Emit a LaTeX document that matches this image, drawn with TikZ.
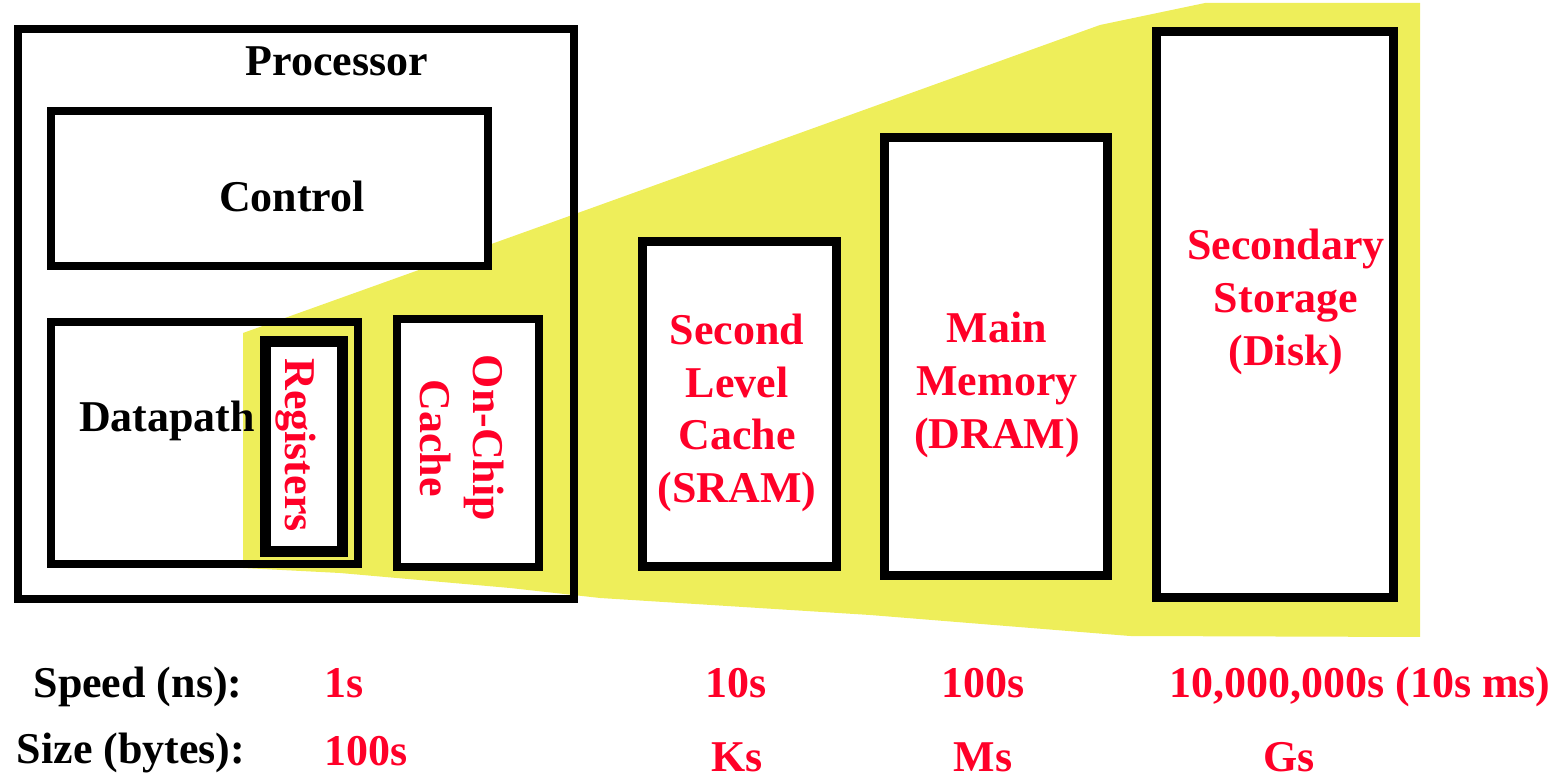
\documentclass[tikz,border=0pt]{standalone}
\usepackage{fontspec}
\setmainfont{Liberation Serif}
\usepackage{xcolor}
\definecolor{memred}{RGB}{255, 0, 40}
\definecolor{memyellow}{RGB}{238, 238, 90}
\usepackage{tikz}
\tikzset{
  % --- BOXES ---
  box-open/.style={
    draw=black,
    line width=0.08cm,
    inner sep=0pt,
    outer sep=0pt
  },
  box-white/.style={
    box-open,
    fill=white
  },
  % --- TEXT ---
  label-black/.style={
    font=\fontsize{12.5}{15}\selectfont\bfseries,
    text=black,
    inner sep=0pt,
    align=center
  },
  label-red/.style={
    label-black,
    text=memred
  },
  % --- HIGHLIGHT ---
  fan-yellow/.style={
    fill=memyellow
  },
}

\begin{document}
\begin{tikzpicture}[x=0.01cm, y=-0.01cm]
  \useasboundingbox (0,0) rectangle (1562,779);
  % --- highlighted levels
  \fill[fan-yellow] (243,333) -- (550,223) -- (1100,25) -- (1205,3)
    -- (1420,3) -- (1420,637) -- (1130,636) -- (870,615) -- (600,598)
    -- (510,588) -- (340,573) -- (243,568) -- cycle;
  % --- processor
  \node[box-open, minimum width=5.56cm, minimum height=5.70cm] (proc) at (296,314) {};
  \node[box-white, minimum width=4.37cm, minimum height=1.55cm] (ctrl) at (269.5,188.5) {};
  \node[box-open, minimum width=3.07cm, minimum height=2.42cm] (dpath) at (204.5,443) {};
  \node[box-white, line width=0.11cm, minimum width=0.77cm, minimum height=2.10cm] (regs) at (304,446.5) {};
  \node[box-white, minimum width=1.42cm, minimum height=2.48cm] (chip) at (468,443) {};
  % --- memory levels
  \node[box-white, line width=0.09cm, minimum width=1.93cm, minimum height=3.24cm] (ltwo) at (739.5,404) {};
  \node[box-white, line width=0.09cm, minimum width=2.23cm, minimum height=4.38cm] (dram) at (996,356.5) {};
  \node[box-white, line width=0.09cm, minimum width=2.37cm, minimum height=5.66cm] (disk) at (1275,314.5) {};
  % --- box titles
  \node[label-black, anchor=base] (proc-title) at (337,76) {Processor};
  \node[label-black, anchor=base] (ctrl-title) at (292,212) {Control};
  \node[label-black, anchor=base] (dpath-title) at (167,432) {Datapath};
  \node[label-red, rotate=-90] (regs-title) at (296,445) {Registers};
  \node[label-red, rotate=-90] (chip-title) at (462,438) {On-Chip\\Cache};
  \node[label-red] (ltwo-title) at (737,413) {Second\\Level\\Cache\\(SRAM)};
  \node[label-red] (dram-title) at (997,385) {Main\\Memory\\(DRAM)};
  \node[label-red] (disk-title) at (1286,302) {Secondary\\Storage\\(Disk)};
  % --- speed row
  \node[label-black, anchor=base] (speed-key) at (138,698) {Speed (ns):};
  \node[label-red, anchor=base] (speed-regs) at (344,698) {1s};
  \node[label-red, anchor=base] (speed-ltwo) at (736,698) {10s};
  \node[label-red, anchor=base] (speed-dram) at (983,698) {100s};
  \node[label-red, anchor=base] (speed-disk) at (1360,698) {10,000,000s (10s ms)};
  % --- size row
  \node[label-black, anchor=base] (size-key) at (131,764) {Size (bytes):};
  \node[label-red, anchor=base] (size-regs) at (366,766) {100s};
  \node[label-red, anchor=base] (size-ltwo) at (737,772) {Ks};
  \node[label-red, anchor=base] (size-dram) at (983,772) {Ms};
  \node[label-red, anchor=base] (size-disk) at (1289,772) {Gs};
\end{tikzpicture}
\end{document}
